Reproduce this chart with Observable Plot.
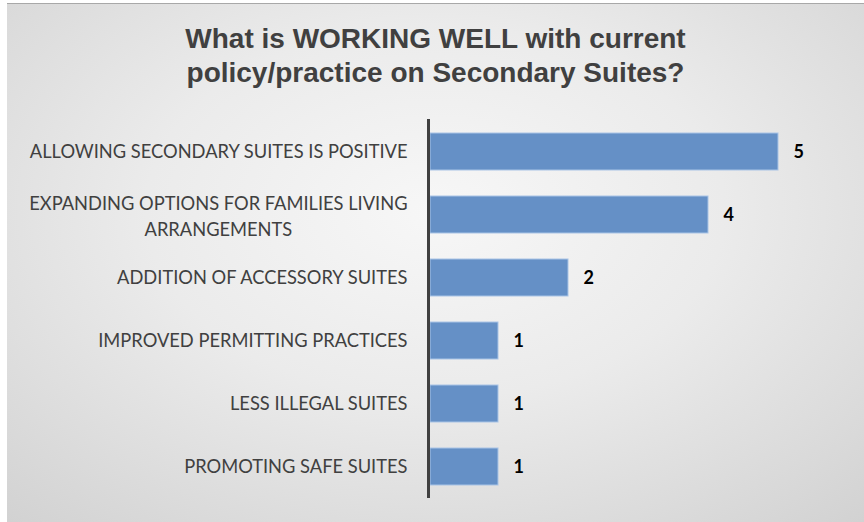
<!DOCTYPE html>
<html>
<head>
<meta charset="utf-8">
<script src="https://cdn.jsdelivr.net/npm/d3@7"></script>
<script src="https://cdn.jsdelivr.net/npm/@observablehq/plot@0.6"></script>
<style>
  html, body { margin: 0; padding: 0; background: #ffffff; }
  #frame {
    position: absolute; left: 7px; top: 3px; width: 857px; height: 519px;
    background: radial-gradient(ellipse 75% 80% at 50% 40%, #f7f7f7 0%, #ebebeb 45%, #d2d2d2 100%);
    border-top: 1px solid #a8a8a8;
    box-sizing: border-box;
    overflow: hidden;
  }
  #title {
    position: absolute; left: 0; top: 18px; width: 857px; text-align: center;
    font-family: "Liberation Sans", Arial, sans-serif; font-weight: bold;
    font-size: 28px; line-height: 33.6px; color: #404040;
  }
  #chart { position: absolute; left: 0; top: -1px; }
</style>
</head>
<body>
<div id="frame">
  <div id="title">What is WORKING WELL with current<br>policy/practice on Secondary Suites?</div>
  <div id="chart"></div>
</div>
<script>
const categories = [
  "ALLOWING SECONDARY SUITES IS POSITIVE",
  "EXPANDING OPTIONS FOR FAMILIES LIVING ARRANGEMENTS",
  "ADDITION OF ACCESSORY SUITES",
  "IMPROVED PERMITTING PRACTICES",
  "LESS ILLEGAL SUITES",
  "PROMOTING SAFE SUITES"
];
const tickLabels = [
  ["ALLOWING SECONDARY SUITES IS POSITIVE"],
  ["EXPANDING OPTIONS FOR FAMILIES LIVING", "ARRANGEMENTS"],
  ["ADDITION OF ACCESSORY SUITES"],
  ["IMPROVED PERMITTING PRACTICES"],
  ["LESS ILLEGAL SUITES"],
  ["PROMOTING SAFE SUITES"]
];
const values = [5, 4, 2, 1, 1, 1];

const data = categories.map((c, i) => ({category: c, value: values[i], lines: tickLabels[i]}));

const labelFont = "Lato, 'Open Sans', sans-serif";
const labelSize = 18.3;
const ctx = document.createElement("canvas").getContext("2d");
ctx.font = `${labelSize}px Lato`;

const singles = data.filter(d => d.lines.length === 1);
const multis = data.filter(d => d.lines.length > 1);

const labelGap = 21;
const marks = [
  Plot.barX(data, {
    y: "category", x: "value",
    fill: "#6590c6", stroke: "#a9c4e6", strokeWidth: 1, insetLeft: 2
  }),
  Plot.ruleX([0], {stroke: "#404040", strokeWidth: 3}),
  Plot.text(data, {
    y: "category", x: "value", text: d => String(d.value),
    textAnchor: "start", dx: 15,
    fontFamily: labelFont, fontWeight: "bold", fontSize: 18, fill: "#000000"
  }),
  Plot.text(singles, {
    y: "category", x: () => 0, text: d => d.lines[0],
    textAnchor: "end", dx: -labelGap,
    fontFamily: labelFont, fontSize: labelSize, fill: "#404040"
  })
];
for (const d of multis) {
  const w = Math.max(...d.lines.map(l => ctx.measureText(l).width));
  marks.push(Plot.text([d], {
    y: "category", x: () => 0, text: dd => dd.lines.join("\n"),
    textAnchor: "middle", dx: -labelGap - w / 2, lineHeight: 1.4,
    fontFamily: labelFont, fontSize: labelSize, fill: "#404040"
  }));
}

const chart = Plot.plot({
  width: 857,
  height: 520,
  marginLeft: 421,
  marginRight: 86,
  marginTop: 116,
  marginBottom: 25,
  style: {background: "transparent", overflow: "visible"},
  x: {domain: [0, 5], axis: null},
  y: {domain: categories, axis: null, paddingInner: 0.42, paddingOuter: 0.21},
  marks
});
document.getElementById("chart").appendChild(chart);
</script>
</body>
</html>
